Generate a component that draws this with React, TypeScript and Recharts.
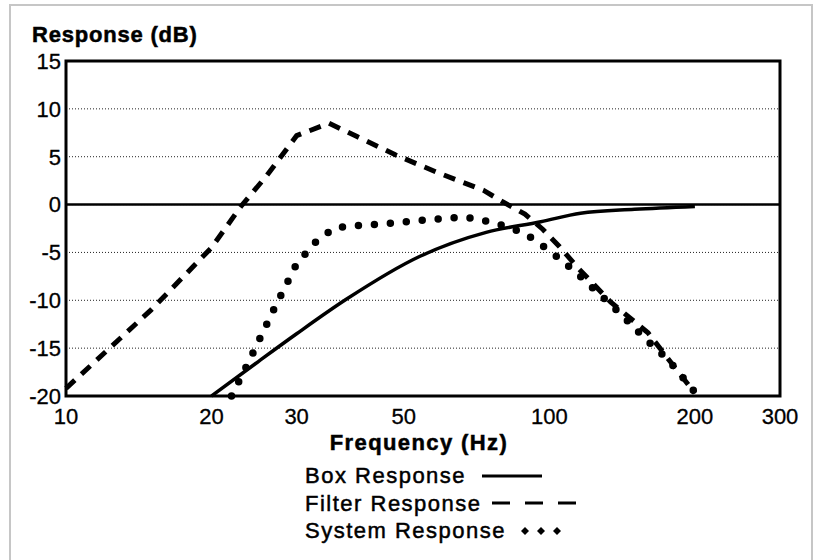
import React from 'react';
import {
  LineChart,
  Line,
  XAxis,
  YAxis,
  CartesianGrid,
  ReferenceLine,
  ReferenceArea,
  Legend,
} from 'recharts';

// frequency (Hz) / response (dB)
const boxHz = [20, 25, 30, 38, 54, 74, 96, 116, 150, 200];
const boxDb = [-20, -16.4, -13.5, -9.9, -5.4, -2.9, -1.8, -0.9, -0.5, -0.2];

const filterHz = [10, 15, 20, 23, 26, 30, 35, 40, 48, 59, 73, 80, 89, 97, 105, 114, 134, 160, 181, 200];
const filterDb = [-19.2, -11.0, -4.5, -0.2, 3.0, 7.2, 8.5, 7.1, 5.2, 3.3, 1.5, 0.3, -1.0, -2.6, -4.4, -6.5, -10.2, -13.4, -16.9, -19.7];

const systemHz = [22, 24, 27, 30, 33, 36, 40, 46, 53, 62, 67, 72, 78, 89, 100, 113, 126, 141, 157, 176, 200];
const systemDb = [-20, -16.2, -10.8, -6.2, -3.8, -2.4, -2.2, -2.0, -1.7, -1.4, -1.3, -1.6, -2.0, -3.0, -4.8, -7.0, -9.2, -11.5, -13.9, -16.2, -19.6];

const freqTicks = [10, 20, 30, 50, 100, 200, 300];
const minorFreqTicks = [20, 30, 50, 100, 200];
const dbTicks = [-20, -15, -10, -5, 0, 5, 10, 15];
const minorDbTicks = [-20, -17.5, -15, -12.5, -10, -7.5, -5, -2.5, 0, 2.5, 5, 7.5, 10, 12.5, 15];

const toPoints = (hz: number[], db: number[]) => hz.map((f, i) => ({ f, db: db[i] }));

const FONT = '"Liberation Sans", Arial, Helvetica, sans-serif';

const series = [
  { name: 'Box Response', points: toPoints(boxHz, boxDb), type: 'monotone', width: 3.5, dash: undefined, cap: 'butt' },
  { name: 'Filter Response', points: toPoints(filterHz, filterDb), type: 'linear', width: 5, dash: '12 9', cap: 'butt' },
  { name: 'System Response', points: toPoints(systemHz, systemDb), type: 'linear', width: 7.5, dash: '0 16', cap: 'round' },
];

const tickStyle = { fill: '#000', fontSize: 22, fontFamily: FONT, stroke: '#000', strokeWidth: 0.3 };

const Swatch = ({ name }: { name: string }) => {
  if (name === 'Box Response') {
    return (
      <svg width={60} height={12} style={{ marginLeft: 16 }}>
        <line x1={0} y1={6} x2={60} y2={6} stroke="#000" strokeWidth={3} />
      </svg>
    );
  }
  if (name === 'Filter Response') {
    return (
      <svg width={84} height={12} style={{ marginLeft: 10 }}>
        <line x1={0} y1={6} x2={84} y2={6} stroke="#000" strokeWidth={3} strokeDasharray="18 15" />
      </svg>
    );
  }
  return (
    <svg width={50} height={12} style={{ marginLeft: 14 }}>
      {[5, 21, 37].map((cx) => (
        <path key={cx} d={`M${cx} 2 L${cx + 4} 6 L${cx} 10 L${cx - 4} 6 Z`} fill="#000" />
      ))}
    </svg>
  );
};

const LegendRows = ({ payload }: any) => (
  <div
    style={{
      fontFamily: FONT,
      fontSize: 22,
      letterSpacing: 1.5,
      lineHeight: '27.5px',
      color: '#000',
      WebkitTextStroke: '0.5px #000',
    }}
  >
    {(payload || []).map((entry: any) => (
      <div key={entry.value} style={{ display: 'flex', alignItems: 'center', whiteSpace: 'nowrap' }}>
        <span>{entry.value}</span>
        <Swatch name={entry.value} />
      </div>
    ))}
  </div>
);

export default function App() {
  return (
    <div
      style={{
        position: 'absolute',
        left: 0,
        top: 0,
        width: 813,
        height: 560,
        overflow: 'hidden',
        background: '#fff',
      }}
    >
      <div
        style={{
          position: 'absolute',
          left: 9,
          top: 4,
          width: 800,
          height: 600,
          border: '2px solid #c6c6c6',
        }}
      />
      <div
        style={{
          position: 'absolute',
          left: 32,
          top: 24,
          fontFamily: FONT,
          fontWeight: 700,
          fontSize: 22,
          letterSpacing: 0.8,
          lineHeight: '22px',
          whiteSpace: 'nowrap',
          WebkitTextStroke: '0.5px #000',
        }}
      >
        Response (dB)
      </div>
      <div
        style={{
          position: 'absolute',
          left: 269,
          top: 432,
          width: 300,
          textAlign: 'center',
          fontFamily: FONT,
          fontWeight: 700,
          fontSize: 22,
          letterSpacing: 1.4,
          lineHeight: '22px',
          whiteSpace: 'nowrap',
          WebkitTextStroke: '0.5px #000',
        }}
      >
        Frequency (Hz)
      </div>
      <LineChart width={813} height={560} margin={{ top: 61, right: 33, bottom: 134, left: 10 }}>
        <CartesianGrid vertical={false} stroke="#222" strokeDasharray="1 2" />
        <XAxis
          dataKey="f"
          type="number"
          scale="log"
          domain={[10, 300]}
          ticks={freqTicks}
          height={30}
          axisLine={false}
          tickLine={false}
          tickSize={0}
          tickMargin={12}
          interval={0}
          tick={tickStyle}
        />
        <XAxis
          xAxisId="minor"
          dataKey="f"
          type="number"
          scale="log"
          domain={[10, 300]}
          ticks={minorFreqTicks}
          orientation="bottom"
          mirror
          height={1}
          axisLine={false}
          tick={false}
          tickSize={6}
          interval={0}
          tickLine={{ stroke: '#000', strokeWidth: 1.5 }}
        />
        <YAxis
          type="number"
          domain={[-20, 15]}
          ticks={dbTicks}
          width={56}
          axisLine={false}
          tickLine={false}
          tickSize={0}
          tickMargin={5}
          interval={0}
          tick={tickStyle}
        />
        <YAxis
          yAxisId="minor"
          type="number"
          domain={[-20, 15]}
          ticks={minorDbTicks}
          orientation="left"
          mirror
          width={1}
          axisLine={false}
          tick={false}
          tickSize={6}
          interval={0}
          tickLine={{ stroke: '#000', strokeWidth: 1.5 }}
        />
        <ReferenceLine y={0} stroke="#000" strokeWidth={2.5} />
        {series.map((s) => (
          <Line
            key={s.name}
            data={s.points}
            dataKey="db"
            name={s.name}
            type={s.type as any}
            stroke="#000"
            strokeWidth={s.width}
            strokeDasharray={s.dash}
            strokeLinecap={s.cap as any}
            dot={false}
            activeDot={false}
            isAnimationActive={false}
          />
        ))}
        <ReferenceArea x1={10} x2={300} y1={-20} y2={15} fill="none" stroke="#000" strokeWidth={3} />
        <Legend
          layout="horizontal"
          verticalAlign="middle"
          align="center"
          wrapperStyle={{ left: 305, top: 462, width: 'auto' }}
          content={<LegendRows />}
        />
      </LineChart>
    </div>
  );
}
